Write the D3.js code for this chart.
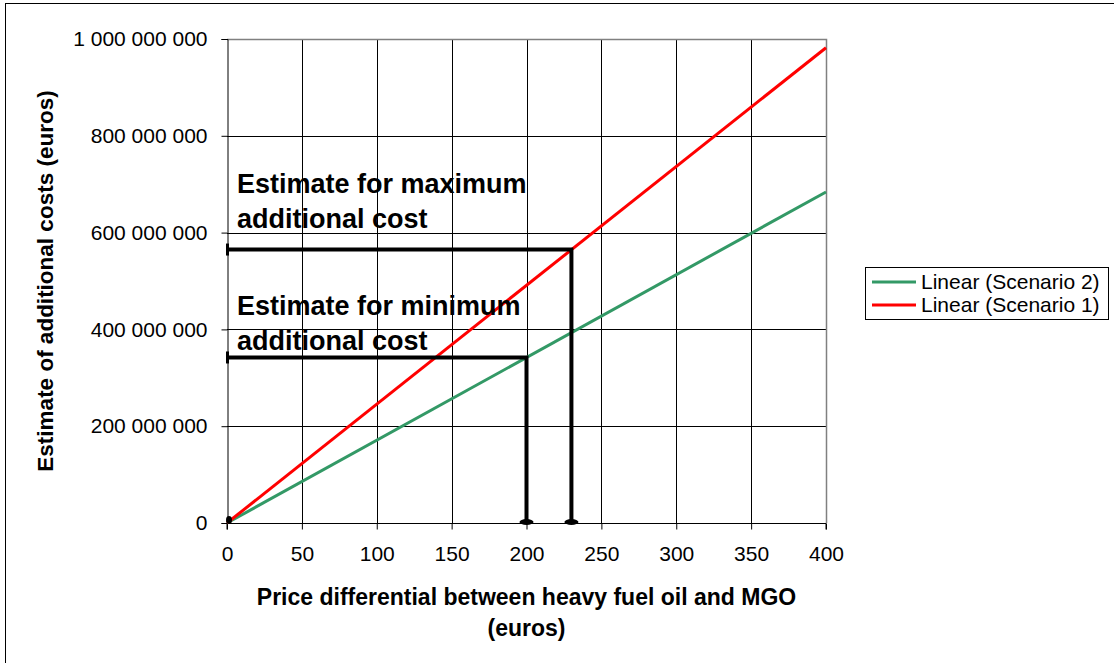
<!DOCTYPE html>
<html>
<head>
<meta charset="utf-8">
<script src="https://cdn.jsdelivr.net/npm/d3@7/dist/d3.min.js"></script>
<style>
  html, body { margin: 0; padding: 0; background: #fff; }
  svg { display: block; font-family: "Liberation Sans", Arial, sans-serif; }
</style>
</head>
<body>
<svg id="chart" width="1114" height="663"></svg>
<script>
// Price differential (euros) tick values
const xTicks = [0, 50, 100, 150, 200, 250, 300, 350, 400];
// Additional cost (euros) tick values
const yTicks = [0, 200000000, 400000000, 600000000, 800000000, 1000000000];

// Linear trend endpoints for each scenario
const trendX = [0, 400];
const scenario2 = [0, 684000000];
const scenario1 = [0, 982000000];
const seriesNames = ["Linear (Scenario 2)", "Linear (Scenario 1)"];
const seriesColors = ["#339966", "#ff0000"];

// Estimates
const estimatePrice = [200, 230];
const estimateCost = [342000000, 565000000];
const estimateLabels = [
  ["Estimate for minimum", "additional cost"],
  ["Estimate for maximum", "additional cost"]
];

const svg = d3.select("#chart");

// outer frame
svg.append("rect")
  .attr("x", 5.5).attr("y", 3.5)
  .attr("width", 1200).attr("height", 700)
  .attr("fill", "none").attr("stroke", "#000").attr("stroke-width", 1);

const x = d3.scaleLinear().domain([0, 400]).range([227, 826]);
const y = d3.scaleLinear().domain([0, 1000000000]).range([523, 39]);

const fmt = v => d3.format(",")(v).replace(/,/g, " ");

// grid
const grid = svg.append("g");
grid.selectAll("line.v").data(xTicks.filter(d => d > 0 && d < 400)).join("line")
  .attr("x1", d => Math.round(x(d)) + 0.5).attr("x2", d => Math.round(x(d)) + 0.5)
  .attr("y1", y(1000000000)).attr("y2", y(0))
  .attr("stroke", "#000").attr("stroke-width", 1);
grid.selectAll("line.h").data(yTicks.filter(d => d > 0 && d < 1000000000)).join("line")
  .attr("x1", x(0)).attr("x2", x(400))
  .attr("y1", d => Math.round(y(d)) + 0.5).attr("y2", d => Math.round(y(d)) + 0.5)
  .attr("stroke", "#000").attr("stroke-width", 1);
// plot-area border (top / right)
grid.append("path")
  .attr("d", `M${x(0)},${Math.round(y(1e9)) + 0.5}H${Math.round(x(400)) + 0.5}V${y(0)}`)
  .attr("fill", "none").attr("stroke", "#808080").attr("stroke-width", 1.5);

// axes
const xAxis = svg.append("g")
  .attr("transform", `translate(0,${Math.round(y(0)) + 0.5})`)
  .call(d3.axisBottom(x).tickValues(xTicks).tickSize(6).tickPadding(14).tickFormat(d3.format("d")));
const yAxis = svg.append("g")
  .attr("transform", `translate(${Math.round(x(0)) + 0.5},0)`)
  .call(d3.axisLeft(y).tickValues(yTicks).tickSize(6).tickPadding(14).tickFormat(fmt));
[xAxis, yAxis].forEach(g => {
  g.select(".domain").attr("stroke", "#000").attr("stroke-width", 1);
  g.selectAll(".tick line").attr("stroke", "#000");
  g.selectAll(".tick text").attr("font-size", 21).attr("fill", "#000")
    .attr("font-family", "Liberation Sans, Arial, sans-serif");
});
xAxis.selectAll(".tick text").attr("dy", "0.71em").attr("y", 23);
xAxis.select(".domain").attr("d", `M${x(0)},6V0H${x(400)}V6`);

// trend lines
const line = d3.line().x(d => x(d[0])).y(d => y(d[1]));
[scenario2, scenario1].forEach((vals, i) => {
  svg.append("path")
    .datum(trendX.map((px, j) => [px, vals[j]]))
    .attr("d", line)
    .attr("fill", "none")
    .attr("stroke", seriesColors[i])
    .attr("stroke-width", 3);
});

// estimate guides
const guides = svg.append("g");
estimatePrice.forEach((p, i) => {
  const c = estimateCost[i];
  guides.append("path")
    .datum([[0, c], [p, c], [p, 0]])
    .attr("d", line)
    .attr("fill", "none").attr("stroke", "#000").attr("stroke-width", 4)
    .attr("stroke-linejoin", "miter");
  // end caps
  guides.append("rect")
    .attr("x", x(0) - 1).attr("y", y(c) - 6)
    .attr("width", 3).attr("height", 12).attr("fill", "#000");
  guides.append("ellipse")
    .attr("cx", x(p)).attr("cy", y(0) - 1)
    .attr("rx", 7).attr("ry", 3).attr("fill", "#000");
});
guides.append("ellipse")
  .attr("cx", x(0) + 2).attr("cy", y(0) - 3)
  .attr("rx", 3).attr("ry", 4).attr("fill", "#000");

// estimate labels
const labelTop = [315, 193];
estimateLabels.forEach((lines, i) => {
  svg.append("text")
    .attr("x", 237).attr("y", labelTop[i])
    .attr("font-size", 27).attr("font-weight", "bold").attr("fill", "#000")
    .selectAll("tspan").data(lines).join("tspan")
    .attr("x", 237).attr("dy", (d, j) => j === 0 ? 0 : 35)
    .text(d => d);
});

// axis titles
svg.append("text")
  .attr("x", (x(0) + x(400)) / 2).attr("y", 605)
  .attr("text-anchor", "middle").attr("font-size", 23).attr("font-weight", "bold")
  .selectAll("tspan").data(["Price differential between heavy fuel oil and MGO", "(euros)"]).join("tspan")
  .attr("x", (x(0) + x(400)) / 2).attr("dy", (d, j) => j === 0 ? 0 : 31)
  .text(d => d);
svg.append("text")
  .attr("transform", `translate(53,${(y(0) + y(1e9)) / 2}) rotate(-90)`)
  .attr("text-anchor", "middle").attr("font-size", 22.5).attr("font-weight", "bold")
  .text("Estimate of additional costs (euros)");

// legend
const legend = svg.append("g");
legend.append("rect")
  .attr("x", 865.5).attr("y", 267.5).attr("width", 243).attr("height", 52)
  .attr("fill", "#fff").attr("stroke", "#000").attr("stroke-width", 1);
seriesNames.forEach((name, i) => {
  const ly = 282 + i * 23;
  legend.append("line")
    .attr("x1", 872).attr("x2", 916).attr("y1", ly).attr("y2", ly)
    .attr("stroke", seriesColors[i]).attr("stroke-width", 3);
  legend.append("text")
    .attr("x", 921).attr("y", ly + 7)
    .attr("font-size", 21).attr("fill", "#000")
    .text(name);
});
</script>
</body>
</html>
